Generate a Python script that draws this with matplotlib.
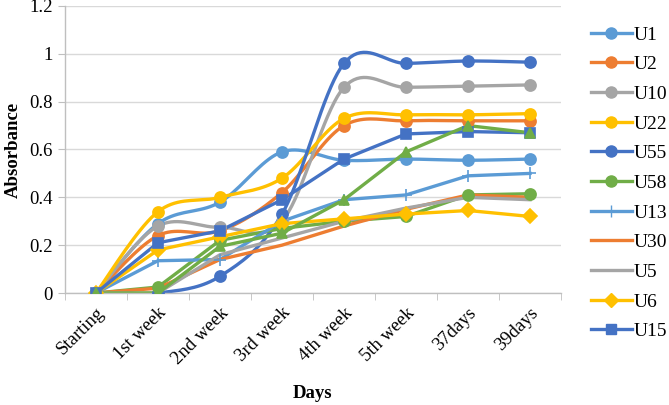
import numpy as np
import matplotlib.pyplot as plt

days = ["Starting", "1st week", "2nd week", "3rd week", "4th week",
        "5th week", "37days", "39days"]

u1 = [0, 0.29, 0.38, 0.59, 0.555, 0.56, 0.555, 0.56]
u2 = [0, 0.24, 0.26, 0.42, 0.70, 0.72, 0.72, 0.72]
u10 = [0, 0.28, 0.275, 0.30, 0.86, 0.86, 0.865, 0.87]
u22 = [0, 0.34, 0.40, 0.48, 0.73, 0.745, 0.745, 0.75]
u55 = [0, 0.0, 0.07, 0.33, 0.96, 0.96, 0.97, 0.965]
u58 = [0, 0.025, 0.22, 0.27, 0.30, 0.32, 0.41, 0.415]
u13 = [0, 0.135, 0.14, 0.30, 0.39, 0.41, 0.49, 0.50]
u30 = [0, 0.02, 0.14, 0.20, 0.28, 0.35, 0.41, 0.40]
u5 = [0, 0.0, 0.16, 0.23, 0.30, 0.355, 0.40, 0.39]
u6 = [0, 0.18, 0.235, 0.29, 0.31, 0.33, 0.345, 0.32]
u15 = [0, 0.21, 0.26, 0.39, 0.56, 0.665, 0.675, 0.67]
u_extra = [0, 0.0, 0.195, 0.25, 0.39, 0.59, 0.70, 0.67]  # green triangles, not in legend

BLUE = "#5B9BD5"
ORANGE = "#ED7D31"
GRAY = "#A5A5A5"
GOLD = "#FFC000"
DBLUE = "#4472C4"
GREEN = "#70AD47"

# name, values, colour, marker, smoothed
series = [
    ("U1", u1, BLUE, "o", True),
    ("U2", u2, ORANGE, "o", True),
    ("U10", u10, GRAY, "o", True),
    ("U22", u22, GOLD, "o", True),
    ("U55", u55, DBLUE, "o", True),
    ("U58", u58, GREEN, "o", False),
    ("U13", u13, BLUE, "+", False),
    ("U30", u30, ORANGE, "None", False),
    ("U5", u5, GRAY, "None", False),
    ("U6", u6, GOLD, "D", False),
    ("U15", u15, DBLUE, "s", False),
    ("_extra", u_extra, GREEN, "^", False),
]


def smooth(x, y, n=20):
    """Catmull-Rom curve through the points (like Excel smoothed lines)."""
    x = np.asarray(x, float)
    y = np.asarray(y, float)
    px = np.concatenate([[x[0]], x, [x[-1]]])
    py = np.concatenate([[y[0]], y, [y[-1]]])
    xs, ys = [], []
    t = np.linspace(0, 1, n)
    for i in range(1, len(px) - 2):
        p0, p1, p2, p3 = (np.array([px[j], py[j]]) for j in (i - 1, i, i + 1, i + 2))
        c1 = p1 + (p2 - p0) / 6
        c2 = p2 - (p3 - p1) / 6
        pts = ((1 - t) ** 3)[:, None] * p1 + (3 * (1 - t) ** 2 * t)[:, None] * c1 \
            + (3 * (1 - t) * t ** 2)[:, None] * c2 + (t ** 3)[:, None] * p2
        xs.extend(pts[:, 0])
        ys.extend(pts[:, 1])
    return np.array(xs), np.array(ys)


plt.rcParams["font.family"] = ["Liberation Serif", "DejaVu Serif"]

fig = plt.figure(figsize=(6.69, 4.05), dpi=100)
ax = fig.add_axes([65 / 669, 1 - 293 / 405, 496 / 669, 287 / 405])

x = np.arange(len(days))
handles = []
for name, vals, color, marker, is_smooth in series:
    if is_smooth:
        sx, sy = smooth(x, vals)
        ax.plot(sx, sy, color=color, linewidth=2.4, zorder=2)
    else:
        ax.plot(x, vals, color=color, linewidth=2.4, zorder=2)
    ms = 9 if marker == "+" else (7 if marker in ("D", "^", "s") else 8)
    ax.plot(x, vals, linestyle="None", marker=marker, color=color,
            markersize=ms, markeredgewidth=1.2, zorder=3)
    if not name.startswith("_"):
        h, = ax.plot([], [], color=color, linewidth=2.4, marker=marker,
                     markersize=ms, label=name)
        handles.append(h)

ax.set_xlim(-0.5, len(days) - 0.5)
ax.set_ylim(0, 1.2)
ax.set_yticks(np.arange(0, 1.21, 0.2))
ax.set_yticklabels(["0", "0.2", "0.4", "0.6", "0.8", "1", "1.2"])
ax.set_xticks(x)
ax.set_xticklabels(days, rotation=45, ha="right", rotation_mode="anchor")
ax.set_xticks(np.arange(-0.5, len(days)), minor=True)
ax.tick_params(axis="x", which="major", length=0, labelsize=13.5, pad=8)
ax.tick_params(axis="x", which="minor", length=5, color="#BFBFBF", direction="out")
ax.tick_params(axis="y", length=5, color="#BFBFBF", labelsize=13.5, pad=4)

ax.grid(axis="y", color="#D9D9D9", linewidth=1)
ax.set_axisbelow(True)
for s in ("top", "right"):
    ax.spines[s].set_visible(False)
for s in ("left", "bottom"):
    ax.spines[s].set_color("#BFBFBF")
    ax.spines[s].set_linewidth(1)

ax.set_xlabel("Days", fontsize=13.5, fontweight="bold", labelpad=13)
ax.set_ylabel("Absorbance", fontsize=13.5, fontweight="bold", labelpad=5)

fig.legend(handles=handles, loc="upper left", bbox_to_anchor=(591 / 669, 1 - 26 / 405),
           frameon=False, fontsize=14, handlelength=2.1, handletextpad=0.1,
           labelspacing=0.62, borderaxespad=0, borderpad=0)

fig.savefig("out.png", dpi=100)
